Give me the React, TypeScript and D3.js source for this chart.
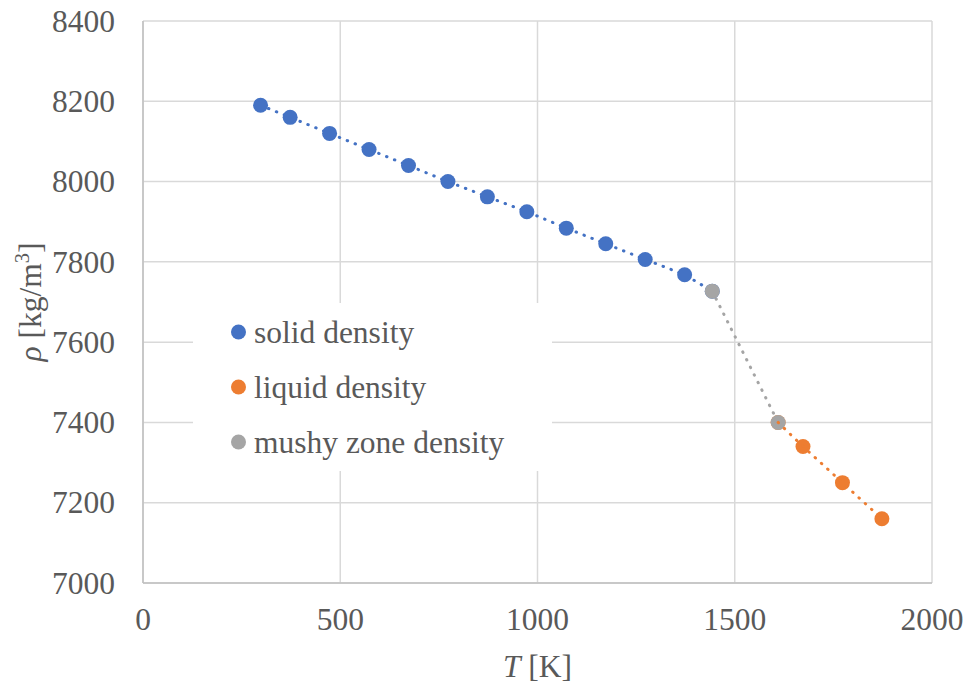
import React from "react";
import * as d3 from "d3";

const solidT = [298, 373, 473, 573, 673, 773, 873, 973, 1073, 1173, 1273, 1373, 1443];
const solidRho = [8190, 8160, 8120, 8080, 8040, 8000, 7962, 7925, 7884, 7845, 7806, 7768, 7727];
const liquidT = [1610, 1673, 1773, 1873];
const liquidRho = [7400, 7340, 7250, 7160];
const mushyT = [1443, 1610];
const mushyRho = [7727, 7400];
const xTicks = [0, 500, 1000, 1500, 2000];
const yTicks = [7000, 7200, 7400, 7600, 7800, 8000, 8200, 8400];
const legendLabels = ["solid density", "liquid density", "mushy zone density"];

const W = 971;
const H = 686;
const M = { left: 143, right: 932, top: 21, bottom: 583 };
const FONT = "'Liberation Serif', 'Times New Roman', serif";
const FS = 31.5;
const TXT = "#595959";
const COLORS = ["#4472C4", "#ED7D31", "#A5A5A5"];

export default function App() {
  const x = d3.scaleLinear().domain([0, 2000]).range([M.left, M.right]);
  const y = d3.scaleLinear().domain([7000, 8400]).range([M.bottom, M.top]);
  const line = d3
    .line<[number, number]>()
    .x((d) => x(d[0]))
    .y((d) => y(d[1]));

  const solid: [number, number][] = solidT.map((t, i) => [t, solidRho[i]]);
  const liquid: [number, number][] = liquidT.map((t, i) => [t, liquidRho[i]]);
  const mushy: [number, number][] = mushyT.map((t, i) => [t, mushyRho[i]]);

  const dotted = (d: [number, number][], c: string) => (
    <path
      d={line(d) || ""}
      fill="none"
      stroke={c}
      strokeWidth={3}
      strokeLinecap="round"
      strokeDasharray="0.5 8"
    />
  );
  const markers = (d: [number, number][], c: string) =>
    d.map((p, i) => <circle key={i} cx={x(p[0])} cy={y(p[1])} r={7.5} fill={c} />);

  const legX = 193;
  const legY = 303;
  return (
    <svg
      width={W}
      height={H}
      style={{ position: "absolute", left: 0, top: 0, background: "#fff" }}
      fontFamily={FONT}
    >
      {/* gridlines */}
      {yTicks.map((t) => (
        <line key={"gy" + t} x1={M.left} x2={M.right} y1={y(t)} y2={y(t)} stroke="#D9D9D9" strokeWidth={1.5} />
      ))}
      {xTicks.map((t) => (
        <line key={"gx" + t} x1={x(t)} x2={x(t)} y1={M.top} y2={M.bottom} stroke="#D9D9D9" strokeWidth={1.5} />
      ))}
      {/* axis lines */}
      <line x1={M.left} x2={M.left} y1={M.top} y2={M.bottom} stroke="#BFBFBF" strokeWidth={1.5} />
      <line x1={M.left} x2={M.right} y1={M.bottom} y2={M.bottom} stroke="#BFBFBF" strokeWidth={1.5} />

      {/* legend background */}
      <rect x={legX} y={legY} width={552 - legX} height={471 - legY} fill="#fff" />

      {/* series */}
      {dotted(mushy, COLORS[2])}
      {dotted(solid, COLORS[0])}
      {markers(solid, COLORS[0])}
      {markers(liquid, COLORS[1])}
      {markers(mushy, COLORS[2])}
      {dotted(liquid, COLORS[1])}

      {/* tick labels */}
      {yTicks.map((t) => (
        <text key={"ty" + t} x={115} y={y(t) + 10.7} textAnchor="end" fontSize={FS} fill={TXT}>
          {t}
        </text>
      ))}
      {xTicks.map((t) => (
        <text key={"tx" + t} x={x(t)} y={630} textAnchor="middle" fontSize={FS} fill={TXT}>
          {t}
        </text>
      ))}

      {/* axis titles */}
      <text x={(M.left + M.right) / 2} y={677} textAnchor="middle" fontSize={FS} fill={TXT}>
        <tspan fontStyle="italic">T</tspan>
        <tspan> [K]</tspan>
      </text>
      <text
        transform={`translate(41, ${(M.top + M.bottom) / 2}) rotate(-90)`}
        textAnchor="middle"
        fontSize={FS}
        fill={TXT}
      >
        <tspan fontStyle="italic">ρ</tspan>
        <tspan> [kg/m</tspan>
        <tspan fontSize={FS * 0.65} dy={-12}>3</tspan>
        <tspan dy={12}>]</tspan>
      </text>

      {/* legend */}
      {legendLabels.map((l, i) => (
        <g key={l}>
          <circle cx={238.5} cy={332 + i * 55} r={7.5} fill={COLORS[i]} />
          <text x={254} y={332 + i * 55 + 10.7} fontSize={FS} fill={TXT}>
            {l}
          </text>
        </g>
      ))}
    </svg>
  );
}
